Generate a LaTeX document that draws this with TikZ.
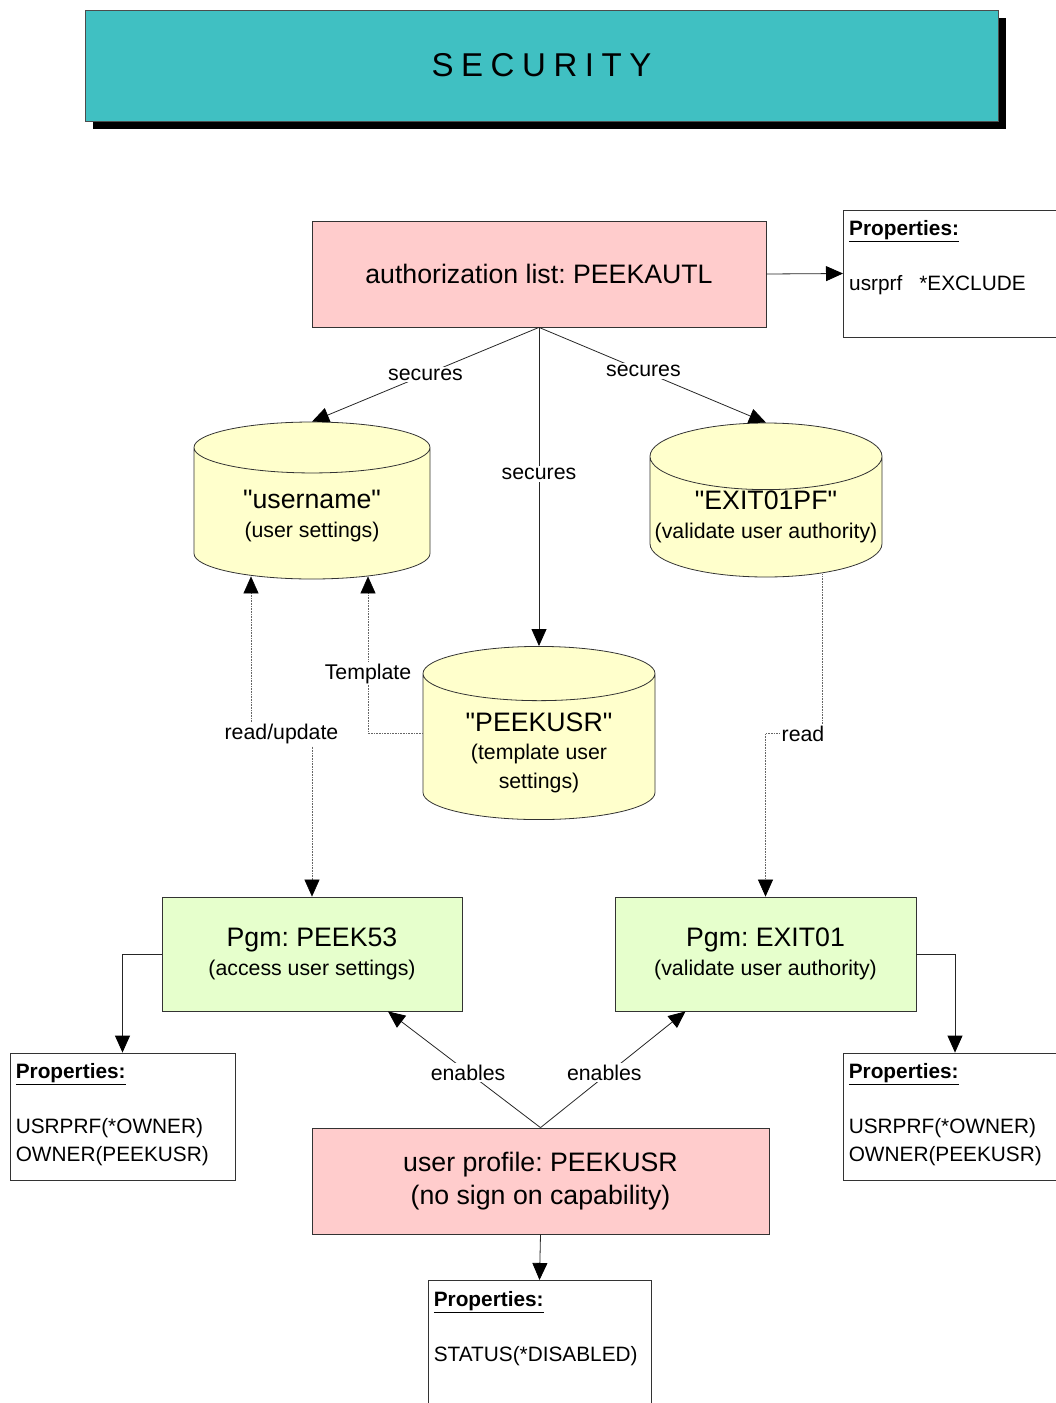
\documentclass[tikz,border=0pt]{standalone}
\usepackage{fontspec}
\setmainfont{Liberation Sans}[Ligatures=TeXOff]
\newfontfamily\titlefont[LetterSpace=23]{Liberation Sans}
\usetikzlibrary{shapes.geometric,arrows.meta,positioning,shadows}
\definecolor{titlecyan}{HTML}{40C0C2}
\definecolor{rosepink}{HTML}{FFCCCC}
\definecolor{paleyellow}{HTML}{FFFFCC}
\definecolor{palegreen}{HTML}{E6FFCC}
\newcommand{\bigtxt}{\fontsize{26.7}{29}\selectfont}
\newcommand{\smltxt}{\fontsize{21.3}{28.5}\selectfont}
\newcommand{\proptxt}{\fontsize{20.8}{27.5}\selectfont}
\frenchspacing

\begin{document}
\begin{tikzpicture}[x=1pt,y=-1pt,>={Triangle[length=17pt,width=15pt,color=black]}]
	\tikzstyle{every node}=[font=\smltxt]
	\tikzstyle{box}=[draw=black!80,line width=0.8pt,minimum width=454pt,minimum height=106pt,align=center]
	\tikzstyle{pgmbox}=[box,fill=palegreen,minimum width=300pt,minimum height=114pt]
	\tikzstyle{datafile}=[cylinder,shape border rotate=90,aspect=0.37,draw=black!80,line width=0.8pt,fill=paleyellow,minimum width=232pt,minimum height=157pt,inner sep=0pt,align=center,anchor=shape center]
	\tikzstyle{propbox}=[draw=black!80,line width=0.8pt,minimum width=225pt,minimum height=127pt]
	\tikzstyle{proptext}=[font=\proptxt,align=left,inner sep=0pt]
	\tikzstyle{conn}=[line width=0.8pt,black!85]
	\tikzstyle{dotconn}=[densely dotted,line width=0.6pt,black!60]
	\tikzstyle{lbl}=[fill=white,text=black,inner sep=2pt]
	\useasboundingbox (0,0) rectangle (1056,1403);
	\clip (0,0) rectangle (1056,1403);

	\node[draw=black!70,fill=titlecyan,minimum width=913pt,minimum height=111pt,
		drop shadow={shadow xshift=8pt,shadow yshift=-8pt,fill=black,opacity=1},
		font=\titlefont\fontsize{33}{40}\selectfont] (title) at (541.5,65.5) {SECURITY};

	\node[box,fill=rosepink,font=\bigtxt] (autl) at (539,274) {authorization list: PEEKAUTL};
	\node[propbox,minimum width=230pt,anchor=west] (propT) at (843,273.5) {};
	\node[proptext,below right=11pt and 6pt of propT.north west] {\underline{\textbf{Properties:}}\\[27.5pt]usrprf\hspace{17pt}*EXCLUDE};

	\node[datafile,minimum width=236pt] (usrset) at (312,500.5) {\bigtxt\rule{0pt}{24pt}"username"\\\smltxt (user settings)};
	\node[datafile,minimum height=154pt] (exitpf) at (766,500) {\bigtxt "EXIT01PF"\\\smltxt\makebox[180pt][c]{(validate user authority)}};
	\node[datafile,minimum height=164pt] (tmplusr) at (539,733) {\bigtxt\rule{0pt}{30pt}"PEEKUSR"\\\smltxt (template user\\\smltxt settings)};

	\node[pgmbox] (peek53) at (312,954) {\bigtxt Pgm: PEEK53\\\smltxt (access user settings)};
	\node[pgmbox,minimum width=301pt] (exit01) at (765.5,954) {\bigtxt Pgm: EXIT01\\\smltxt (validate user authority)};
	\node[box,fill=rosepink,minimum width=457pt,font=\bigtxt] (usrprf) at (540.5,1181) {user profile: PEEKUSR\\[4pt](no sign on capability)};

	\node[propbox] (propL) at (122.5,1116.5) {};
	\node[proptext,below right=11pt and 6pt of propL.north west] {\underline{\textbf{Properties:}}\\[27.5pt]USRPRF(*OWNER)\\OWNER(PEEKUSR)};
	\node[propbox,minimum width=224pt] (propR) at (955,1116.5) {};
	\node[proptext,below right=11pt and 6pt of propR.north west] {\underline{\textbf{Properties:}}\\[27.5pt]USRPRF(*OWNER)\\OWNER(PEEKUSR)};
	\node[propbox,minimum width=223pt,minimum height=135pt,anchor=north] (propB) at (539.5,1280) {};
	\node[proptext,below right=11pt and 6pt of propB.north west] {\underline{\textbf{Properties:}}\\[27.5pt]STATUS(*DISABLED)};

	\draw[conn,->] (autl.east) -- (propT.west);
	\draw[conn,->] (autl.south) -- node[lbl] {secures} (usrset.north);
	\draw[conn,->] (autl.south) -- node[lbl,pos=0.46] {secures} (tmplusr.north);
	\draw[conn,->] (autl.south) -- node[lbl,pos=0.46] {secures} (exitpf.north);
	\draw[dotconn,<->] ([xshift=-61pt,yshift=3pt]usrset.south) -- ++(0,158) -| node[lbl,pos=0.25] {read/update} (peek53.north);
	\draw[dotconn,->] (tmplusr.shape center -| tmplusr.west) -| node[lbl,pos=0.69] {Template} ([xshift=56pt,yshift=3pt]usrset.south);
	\draw[dotconn,->] ([xshift=56pt,yshift=3pt]exitpf.south) -- ++(0,159) node[lbl,xshift=-19pt] {read} -| (exit01.north);
	\draw[conn,->] (usrprf.north) -- node[lbl,pos=0.475] {enables} ([xshift=76pt]peek53.south);
	\draw[conn,->] (usrprf.north) -- node[lbl,pos=0.44,yshift=4pt] {enables} ([xshift=-80pt]exit01.south);
	\draw[conn,->] (peek53.west) -| (propL.north);
	\draw[conn,->] (exit01.east) -| (propR.north);
	\draw[conn,->] (usrprf.south) -- (propB.north);
\end{tikzpicture}
\end{document}
